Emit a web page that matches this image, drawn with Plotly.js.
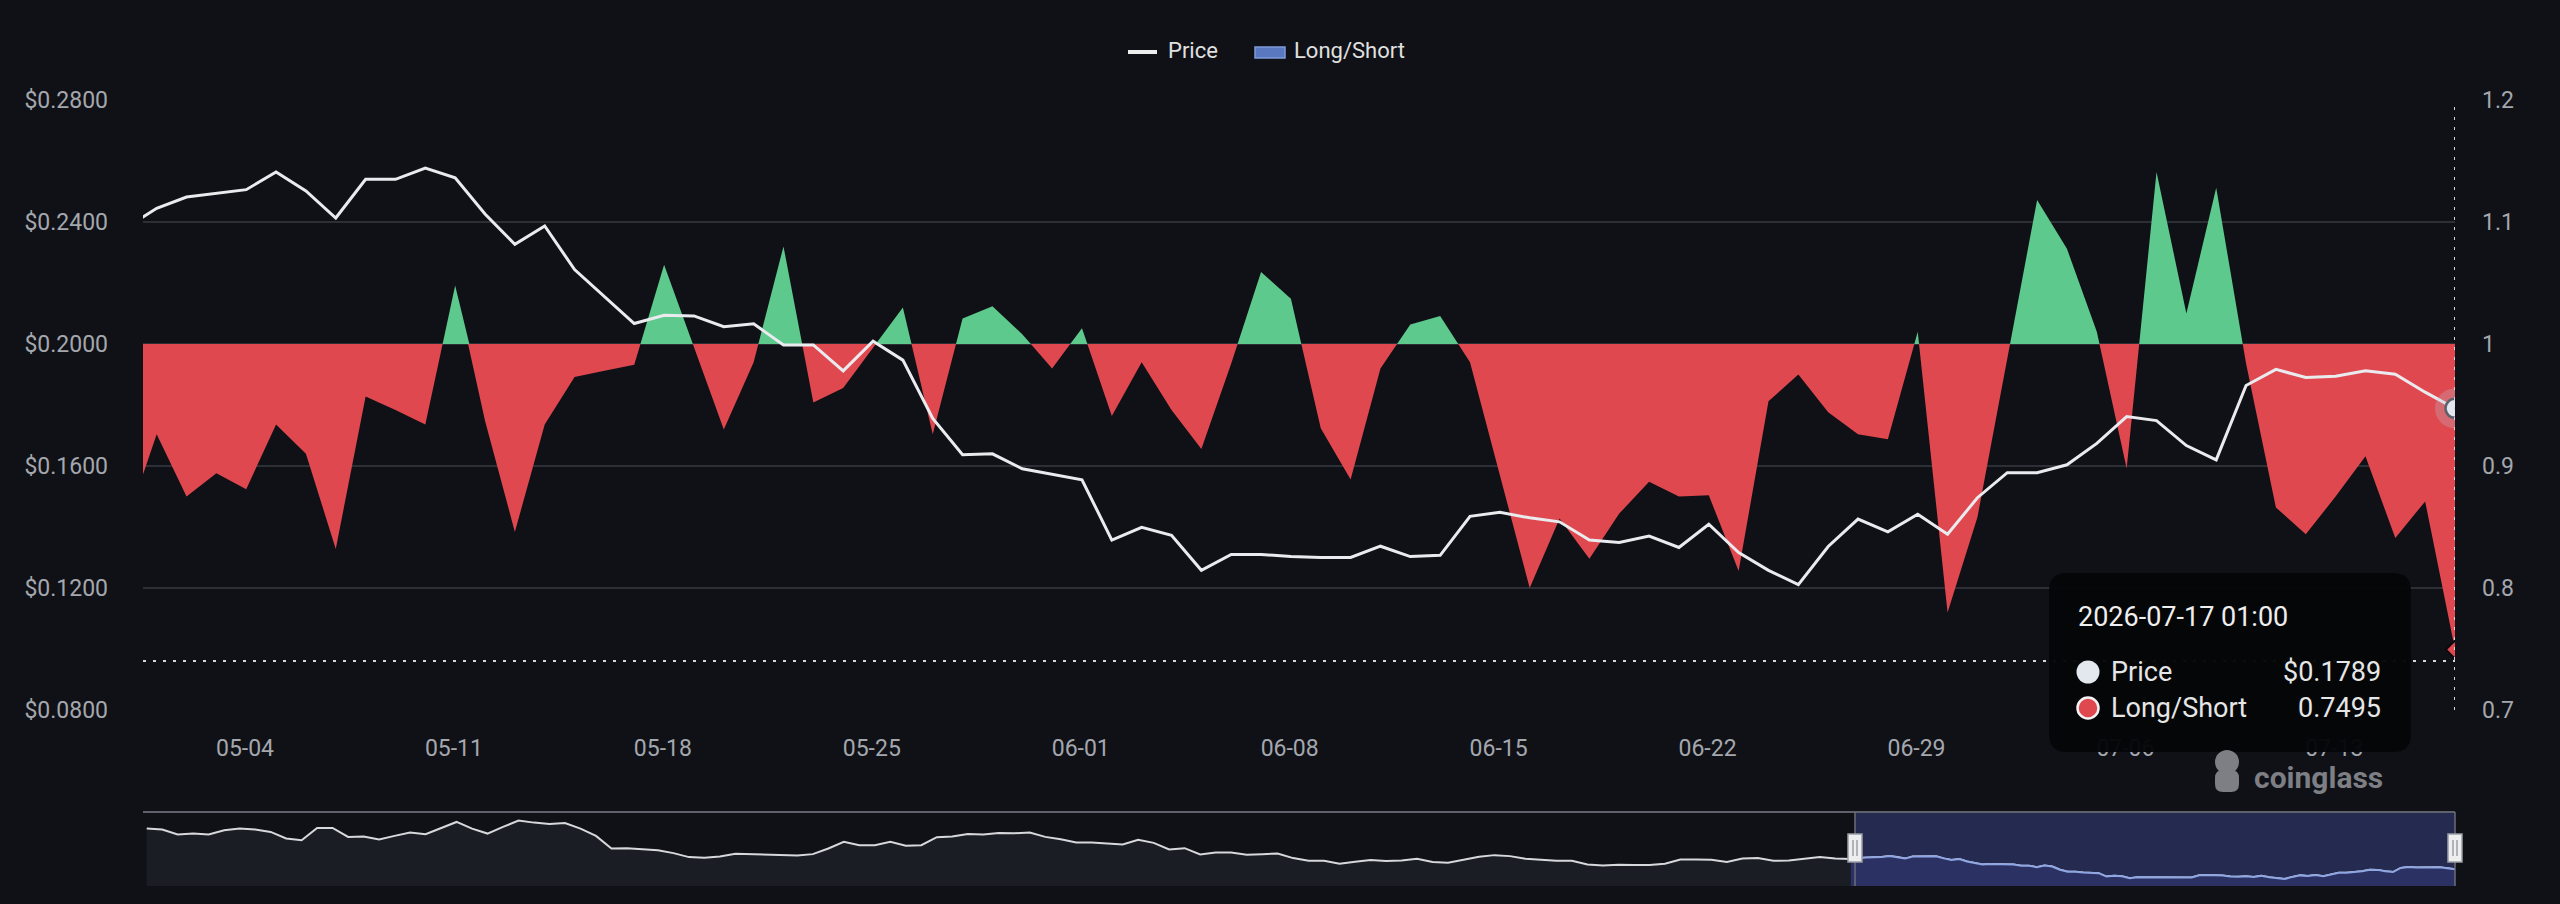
<!DOCTYPE html>
<html>
<head>
<meta charset="utf-8">
<script src="https://cdn.plot.ly/plotly-3.0.1.min.js"></script>
<style>
html,body{margin:0;padding:0;background:#0f1116;}
#chart{width:2560px;height:904px;}
</style>
</head>
<body>
<div id="chart"></div>
<script>
// ---------------- DATA ----------------
const START_DATE = '2026-04-30 01:00';   // first daily point (partly outside the view)
const price = [
  0.2383,
  0.2445, 0.2482, 0.2495, 0.2506, 0.2564, 0.2502, 0.2413, 0.2540, 0.2540, 0.2577,
  0.2545, 0.2426, 0.2327, 0.2387, 0.2244, 0.2156, 0.2067, 0.2094, 0.2092, 0.2057,
  0.2066, 0.1997, 0.1997, 0.1912, 0.2009, 0.1947, 0.1756, 0.1637, 0.1640, 0.1591,
  0.1574, 0.1555, 0.1357, 0.1399, 0.1373, 0.1258, 0.1310, 0.1310, 0.1303, 0.1300,
  0.1300, 0.1337, 0.1303, 0.1307, 0.1435, 0.1448, 0.1430, 0.1417, 0.1357, 0.1349,
  0.1370, 0.1333, 0.1409, 0.1316, 0.1258, 0.1211, 0.1336, 0.1426, 0.1384, 0.1442,
  0.1376, 0.1496, 0.1578, 0.1578, 0.1604, 0.1674, 0.1762, 0.1749, 0.1667, 0.1620,
  0.1864, 0.1917, 0.1890, 0.1894, 0.1912, 0.1901, 0.1842, 0.1789
];
const longShort = [
  0.854,
  0.926, 0.875, 0.894, 0.881, 0.934, 0.910, 0.832, 0.957, 0.946, 0.934,
  1.048, 0.937, 0.846, 0.934, 0.973, 0.978, 0.983, 1.065, 0.997, 0.930,
  0.985, 1.080, 0.952, 0.964, 0.997, 1.030, 0.926, 1.021, 1.031, 1.008,
  0.980, 1.013, 0.941, 0.985, 0.946, 0.914, 0.984, 1.059, 1.037, 0.931,
  0.889, 0.980, 1.016, 1.023, 0.985, 0.893, 0.800, 0.857, 0.824, 0.861,
  0.887, 0.875, 0.876, 0.814, 0.953, 0.975, 0.944, 0.926, 0.922, 1.010,
  0.780, 0.858, 0.987, 1.118, 1.078, 1.010, 0.898, 1.141, 1.025, 1.128,
  0.984, 0.866, 0.844, 0.875, 0.908, 0.841, 0.871, 0.7495
];
// Earlier price history shown only in the navigator (one reading every 2 days)
const HIST_START = '2025-09-22 01:00';
const histPrice = [
  0.4176, 0.4118, 0.3825, 0.3884, 0.3825, 0.4079, 0.4176, 0.4118, 0.3981, 0.3591,
  0.3494, 0.4215, 0.4215, 0.3689, 0.3708, 0.3532, 0.3747, 0.3942, 0.3845, 0.4196,
  0.4566, 0.4176, 0.3884, 0.4274, 0.4644, 0.4527, 0.4449, 0.4508, 0.4176, 0.3747,
  0.3006, 0.3026, 0.2987, 0.2909, 0.2733, 0.2499, 0.2460, 0.2538, 0.2694, 0.2675,
  0.2675, 0.2616, 0.2597, 0.2675, 0.3006, 0.3396, 0.3201, 0.3201, 0.3396, 0.3162,
  0.3201, 0.3669, 0.3708, 0.3864, 0.3825, 0.3922, 0.3903, 0.3942, 0.3689, 0.3552,
  0.3357, 0.3357, 0.3279, 0.3240, 0.3513, 0.3338, 0.2948, 0.3026, 0.2655, 0.2772,
  0.2772, 0.2636, 0.2675, 0.2714, 0.2441, 0.2285, 0.2285, 0.2109, 0.2226, 0.2324,
  0.2265, 0.2304, 0.2402, 0.2207, 0.2168, 0.2324, 0.2519, 0.2616, 0.2558, 0.2402,
  0.2343, 0.2285, 0.2285, 0.2070, 0.2012, 0.2051, 0.2031, 0.2031, 0.2109, 0.2363,
  0.2363, 0.2343, 0.2207, 0.2421, 0.2441, 0.2285, 0.2304, 0.2382, 0.2499, 0.2421
];
const xTickDates  = ['2026-05-04','2026-05-11','2026-05-18','2026-05-25','2026-06-01','2026-06-08',
                     '2026-06-15','2026-06-22','2026-06-29','2026-07-06','2026-07-13'];
const xTickLabels = ['05-04','05-11','05-18','05-25','06-01','06-08','06-15','06-22','06-29','07-06','07-13'];
const priceTicks  = [0.08, 0.12, 0.16, 0.20, 0.24, 0.28];
const priceTickLabels = ['$0.0800','$0.1200','$0.1600','$0.2000','$0.2400','$0.2800'];
const ratioTicks  = [0.7, 0.8, 0.9, 1.0, 1.1, 1.2];
const ratioTickLabels = ['0.7','0.8','0.9','1','1.1','1.2'];
const NEUTRAL = 1;
const seriesNames = ['Price', 'Long/Short'];

// ---------------- helpers ----------------
const DAY = 86400000;
function parseD(s){const [d,t]=s.split(' ');const [Y,M,D]=d.split('-').map(Number);const [h,m]=t.split(':').map(Number);return Date.UTC(Y,M-1,D,h,m);}
function fmtD(ms){const d=new Date(ms);const p=n=>String(n).padStart(2,'0');
  return `${d.getUTCFullYear()}-${p(d.getUTCMonth()+1)}-${p(d.getUTCDate())} ${p(d.getUTCHours())}:${p(d.getUTCMinutes())}`;}
const dates = price.map((_,i)=>fmtD(parseD(START_DATE)+i*DAY));
const histDates = histPrice.map((_,k)=>fmtD(parseD(HIST_START)+k*2*DAY));
const lastDate = dates[dates.length-1];
const lastPrice = price[price.length-1];
const lastRatio = longShort[longShort.length-1];

// layout geometry (pixels)
const W=2560, H=904, L=143, R=2455, T=100, B=886, MAIN_B=710, MINI_T=812;
const SPLIT = T + (1.2-NEUTRAL)/(1.2-0.7)*(MAIN_B-T);
const px = x => (x-L)/(R-L);
const py = y => (B-y)/(B-T);

const GREEN='#5ec98c', RED='#e04850', BG='#0f1116', GRID='#2c2f36', TICK='#a4a7ae';
const FONT='Roboto, "Noto Sans", sans-serif';

function rr(x0,y0,x1,y1,r){
  const P=(x,y)=>`${px(x)},${py(y)}`;
  return `M${P(x0+r,y0)} L${P(x1-r,y0)} Q${P(x1,y0)} ${P(x1,y0+r)} L${P(x1,y1-r)} Q${P(x1,y1)} ${P(x1-r,y1)} `+
         `L${P(x0+r,y1)} Q${P(x0,y1)} ${P(x0,y1-r)} L${P(x0,y0+r)} Q${P(x0,y0)} ${P(x0+r,y0)} Z`;
}
function circ(cx,cy,r,fill,line,lw){
  return {type:'circle',xref:'paper',yref:'paper',x0:px(cx-r),x1:px(cx+r),y0:py(cy+r),y1:py(cy-r),
          fillcolor:fill,line:{color:line||fill,width:lw||0}};
}
function pline(x0,y0,x1,y1,color,w,dash){
  return {type:'line',xref:'paper',yref:'paper',x0:px(x0),x1:px(x1),y0:py(y0),y1:py(y1),
          line:{color:color,width:w,dash:dash||'solid'}};
}
function prect(x0,y0,x1,y1,fill,line,lw,layer){
  return {type:'rect',xref:'paper',yref:'paper',x0:px(x0),x1:px(x1),y0:py(y1),y1:py(y0),
          fillcolor:fill,line:{color:line||fill,width:lw||0},layer:layer||'above'};
}
function ann(x,y,text,size,color,anchor,extra){
  return Object.assign({xref:'paper',yref:'paper',x:px(x),y:py(y),text:text,showarrow:false,
    xanchor:anchor||'left',yanchor:'middle',font:{family:FONT,size:size,color:color}},extra||{});
}

// ---------------- traces ----------------
const traces = [
  // ratio axis holder (grid + right ticks)
  {x:dates,y:longShort,xaxis:'x',yaxis:'y',mode:'lines',line:{width:0,color:'rgba(0,0,0,0)'},hoverinfo:'skip',showlegend:false},
  // above-neutral part (clipped to upper band)
  {x:dates,y:longShort,xaxis:'x',yaxis:'y2',mode:'lines',line:{width:0,color:GREEN},fill:'tozeroy',fillcolor:GREEN,hoverinfo:'skip',showlegend:false},
  // neutral baseline and below-neutral part (clipped to lower band)
  {x:dates,y:dates.map(()=>NEUTRAL),xaxis:'x',yaxis:'y3',mode:'lines',line:{width:0,color:RED},hoverinfo:'skip',showlegend:false},
  {x:dates,y:longShort,xaxis:'x',yaxis:'y3',mode:'lines',line:{width:0,color:RED},fill:'tonexty',fillcolor:RED,hoverinfo:'skip',showlegend:false},
  // price
  {x:dates,y:price,xaxis:'x',yaxis:'y4',mode:'lines',line:{color:'#e9ebee',width:3},name:seriesNames[0],hoverinfo:'skip',showlegend:false},
  {x:[lastDate],y:[lastPrice],xaxis:'x',yaxis:'y4',mode:'markers',marker:{size:40,color:'rgba(190,195,205,0.28)'},hoverinfo:'skip',showlegend:false},
  {x:[lastDate],y:[lastPrice],xaxis:'x',yaxis:'y4',mode:'markers',marker:{size:19,color:'#e3e7ee',line:{color:'#5d616b',width:2.5}},hoverinfo:'skip',showlegend:false},
  {x:[lastDate],y:[lastRatio],xaxis:'x',yaxis:'y5',mode:'markers',marker:{symbol:'diamond',size:14,color:RED,line:{color:'#0a0a0a',width:2}},hoverinfo:'skip',showlegend:false},
  // navigator
  {x:histDates.concat(dates),y:histPrice.concat(price),xaxis:'x2',yaxis:'y6',mode:'lines',line:{color:'#d6d8dc',width:2},fill:'tozeroy',fillcolor:'#1a1d23',hoverinfo:'skip',showlegend:false},
  {x:dates,y:price,xaxis:'x2',yaxis:'y6',mode:'lines',line:{color:'#8fa6e3',width:2},fill:'tozeroy',fillcolor:'#2b3263',hoverinfo:'skip',showlegend:false}
];

// ---------------- layout ----------------
const mainDom=[py(MAIN_B),1];
const layout = {
  width:W,height:H,
  margin:{l:L,r:W-R,t:T,b:H-B,pad:0},
  paper_bgcolor:BG, plot_bgcolor:'rgba(0,0,0,0)',
  font:{family:FONT,color:TICK},
  showlegend:false, hovermode:false,
  xaxis:{type:'date',domain:[0,1],anchor:'y',range:['2026-04-30 14:00',lastDate],
    tickmode:'array',tickvals:xTickDates,ticktext:xTickLabels,showgrid:false,zeroline:false,showline:false,
    ticks:'',tickfont:{size:23,color:TICK},ticklabelstandoff:22},
  yaxis:{domain:mainDom,anchor:'x',side:'right',range:[0.7,1.2],tickmode:'array',tickvals:ratioTicks,ticktext:ratioTickLabels,
    showgrid:true,gridcolor:GRID,gridwidth:1.5,zeroline:false,showline:false,ticks:'',tickfont:{size:23,color:TICK},ticklabelstandoff:26},
  yaxis2:{domain:[py(SPLIT),1],anchor:'x',range:[NEUTRAL,1.2],visible:false,showgrid:false,zeroline:false},
  yaxis3:{domain:[py(MAIN_B),py(SPLIT)],anchor:'x',range:[0.7,NEUTRAL],visible:false,showgrid:false,zeroline:false},
  yaxis4:{domain:mainDom,anchor:'x',side:'left',range:[0.08,0.28],tickmode:'array',tickvals:priceTicks,ticktext:priceTickLabels,
    showgrid:false,zeroline:false,showline:false,ticks:'',tickfont:{size:23,color:TICK},ticklabelstandoff:34},
  yaxis5:{domain:mainDom,anchor:'x',range:[0.7,1.2],visible:false,showgrid:false,zeroline:false},
  xaxis2:{type:'date',domain:[0,1],anchor:'y6',range:['2025-09-21 13:30',lastDate],visible:false,showgrid:false,zeroline:false},
  yaxis6:{domain:[0,py(MINI_T)],anchor:'x2',range:[0.0802,0.5151],visible:false,showgrid:false,zeroline:false},
  shapes:[], annotations:[]
};

const S = layout.shapes, A = layout.annotations;
// navigator selection window + borders + handles
const SEL0=1855, SEL1=R;
S.push(prect(SEL0,MINI_T,SEL1,B,'#242a50',null,0,'below'));
S.push(pline(L,MINI_T,R,MINI_T,'#5f626a',2));
S.push(pline(SEL0,MINI_T,SEL0,B,'#6a6e7a',1.5));
S.push(pline(SEL1,MINI_T,SEL1,B,'#6a6e7a',1.5));
[SEL0,SEL1].forEach(hx=>{
  S.push(prect(hx-7,834,hx+7,862,'#eceef0','#9a9da3',1.5));
  S.push(pline(hx-2,840,hx-2,856,'#8a8d93',1.2));
  S.push(pline(hx+2,840,hx+2,856,'#8a8d93',1.2));
});
// crosshair
S.push({type:'line',xref:'x',yref:'paper',x0:lastDate,x1:lastDate,y0:py(MAIN_B),y1:1,line:{color:'#d4d6da',width:2,dash:'3px,7px'}});
S.push(pline(L,661,R,661,'#d4d6da',2,'3px,7px'));
// tooltip
S.push({type:'path',xref:'paper',yref:'paper',path:rr(2049,573,2411,752,18),fillcolor:'#050608',line:{width:0},opacity:0.97});
S.push(circ(2088,672,11.5,'#e3e7ee'));
S.push(circ(2088,708,10.5,RED,'#f2f2f2',2.5));
A.push(ann(2076,617,lastDate,27,'#eeeeee','left'));
A.push(ann(2109,672,seriesNames[0],27,'#e6e6e6','left'));
A.push(ann(2383,672,'$'+lastPrice.toFixed(4),27,'#e6e6e6','right'));
A.push(ann(2109,708,seriesNames[1],27,'#e6e6e6','left'));
A.push(ann(2383,708,lastRatio.toFixed(4),27,'#e6e6e6','right'));
// legend
S.push(pline(1128,52,1157,52,'#eeeeee',4));
A.push(ann(1166,51,seriesNames[0],22,'#e0e0e0','left'));
S.push(prect(1255,47,1285,58,'#5a78c0','#7f9ad8',1.5));
A.push(ann(1292,51,seriesNames[1],22,'#e0e0e0','left'));
// watermark
S.push(circ(2227,762,12,'#7d7f84'));
S.push({type:'path',xref:'paper',yref:'paper',path:rr(2215,770,2239,792,8),fillcolor:'#7d7f84',line:{width:0}});
A.push(ann(2252,777,'<b>coinglass</b>',30,'#7d7f84','left'));

Plotly.newPlot('chart',traces,layout,{displayModeBar:false,staticPlot:true});
</script>
</body>
</html>
